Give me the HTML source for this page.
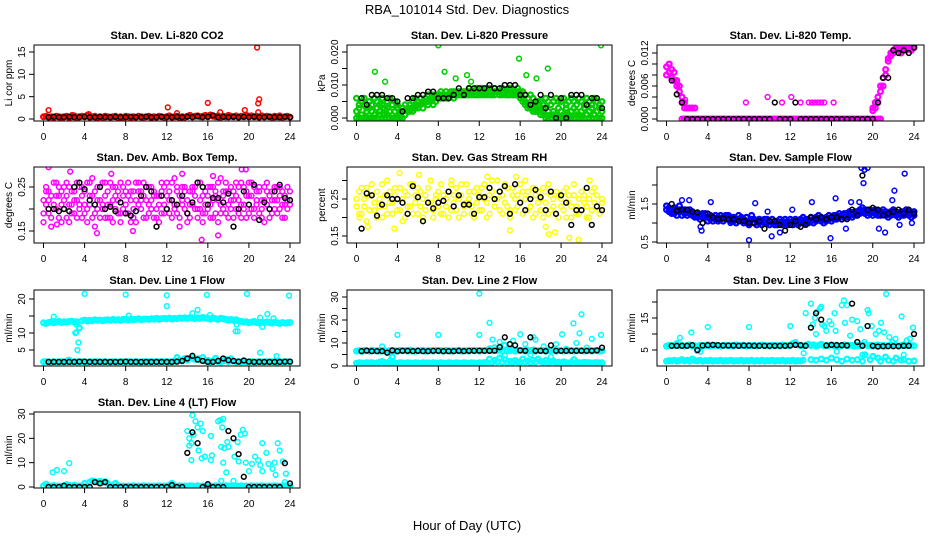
<!DOCTYPE html>
<html><head><meta charset="utf-8"><title>RBA_101014 Std. Dev. Diagnostics</title>
<style>
html,body{margin:0;padding:0;background:#fff;}
svg{display:block;font-family:"Liberation Sans",sans-serif;}
</style></head>
<body>
<svg id="chart" width="936" height="540" viewBox="0 0 936 540" xmlns="http://www.w3.org/2000/svg">
<rect x="0" y="0" width="936" height="540" fill="#fff"/>
<text x="467" y="14" font-size="13" text-anchor="middle">RBA_101014  Std. Dev. Diagnostics</text>
<text x="467" y="530" font-size="13" text-anchor="middle">Hour of Day (UTC)</text>
</svg>
<script>
const xTicks = [0,4,8,12,16,20,24];
const gridStep = 0.25;
const blackStep = 0.5;

const p1Main = [0.5,0.6,0.4,0.5,0.3,0.6,0.5,0.4, 0.5,0.6,0.3,0.5,0.7,0.4,0.5,0.6, 0.5,0.8,0.4,0.5,0.6,0.3,0.5,0.4, 0.6,0.5,0.4,0.5,0.6,0.3,0.5,0.4, 0.6,0.5,0.3,0.5,0.4,0.6,0.5,0.4, 0.5,0.6,0.3,0.5,0.4,0.6,0.5,0.4, 0.5,0.7,0.4,0.5,0.6,0.3,0.5,0.4, 0.6,0.8,0.5,0.6,0.7,0.5,0.6,0.8, 0.5,0.9,0.6,0.5,0.7,0.4,0.6,0.5, 0.8,0.6,0.5,0.7,0.4,0.6,0.5,0.8, 0.6,0.7,0.5,0.6,0.4,0.7,0.5,0.6, 0.5,0.4,0.6,0.5,0.7,0.4,0.5,0.6, 0.4];
const p1OutH = [0.5,2.8,4.4,12.1,13,16,17.2,19.6,20.8,20.9,21,20.9];
const p1OutV = [2,0.9,1.1,2.6,1.3,3.6,1.5,2,16,3.5,4.4,1.5];
const p1Black = [null,0.4,0.5,0.4, 0.4,0.5,0.4,0.4, 0.5,0.4,0.4,0.5, 0.4,0.4,0.5,0.4, 0.4,0.5,0.4,0.4, 0.5,0.4,0.4,0.5, 0.4,0.4,0.5,0.4, 0.5,0.4,0.6,0.4, 0.5,0.8,0.4,0.5, 0.4,0.5,0.4,0.5, 0.4,0.5,0.4,0.4, 0.5,0.4,0.4,0.5, 0.4];

const p2Main = [0.006,0.004,0.005,0.006,0.003,0.005,0.004,0.006, 0.005,0.004,0.006,0.003,0.005,0.006,0.004,0.005, 0.004,0.002,0.003,0.004,0.003,0.004,0.005,0.006, 0.005,0.006,0.005,0.006,0.007,0.006,0.007,0.007, 0.007,0.008,0.007,0.008,0.007,0.008,0.008,0.007, 0.008,0.007,0.008,0.008,0.009,0.008,0.008,0.009, 0.008,0.009,0.008,0.009,0.009,0.008,0.009,0.008, 0.008,0.009,0.008,0.008,0.009,0.008,0.008,0.009, 0.007,0.008,0.007,0.006,0.007,0.006,0.004,0.005, 0.005,0.004,0.006,0.005,0.004,0.005,0.006,0.005, 0.005,0.006,0.004,0.005,0.006,0.005,0.004,0.006, 0.005,0.004,0.006,0.005,0.004,0.006,0.005,0.004, 0.005];
const p2Low = [0,0,0,0,0,0,0,0, 0,0.001,0,0,0.001,0,0,0, 0,0,0,0.001,0.002,0.002,0.003,0.003, 0.004,0.004,0.005,0.005,0.005,0.006,0.006,0.006, 0.006,0.007,0.006,0.007,0.007,0.007,0.007,0.007, 0.007,0.007,0.007,0.007,0.007,0.008,0.007,0.007, 0.007,0.007,0.008,0.007,0.007,0.007,0.007,0.008, 0.007,0.007,0.007,0.007,0.007,0.007,0.007,0.007, 0.006,0.005,0.004,0.004,0.003,0.002,0.002,0.002, 0.001,0.001,0,0,0,0.001,0,0, 0,0,0.001,0,0,0,0.001,0, 0,0,0.001,0,0,0.001,0,0, 0];
const p2Mid = [0.002,0.003,0.001,0.004,0.002,0.003,0.002,0.001, 0.003,0.002,0.004,0.001,0.003,0.002,0.004,0.002, 0.003,0.001,0.002,0.001,0.002,0.003,0.002,0.004, 0.003,0.004,0.003,0.005,0.004,0.005,0.004,0.005, 0.006,0.006,0.007,0.006,0.006,0.007,0.006,0.007, 0.007,0.008,0.007,0.007,0.008,0.007,0.008,0.007, 0.008,0.008,0.007,0.008,0.008,0.007,0.008,0.008, 0.007,0.008,0.008,0.007,0.008,0.007,0.007,0.008, 0.008,0.006,0.005,0.003,0.004,0.003,0.002,0.004, 0.002,0.003,0.001,0.002,0.001,0.002,0.001,0.003, 0.002,0.001,0.003,0.001,0.002,0.003,0.002,0.001, 0.002,0.003,0.001,0.002,0.003,0.001,0.002,0.003, 0.002];
const p2OutH = [1.8,2.8,8,8.6,9.7,10.8,15.9,16.6,17.6,18.7,23.9,11.2];
const p2OutV = [0.014,0.011,0.022,0.014,0.012,0.013,0.018,0.013,0.012,0.015,0.022,0.011];
const p2Black = [null,0.006,0.004,0.007, 0.007,0.007,0.006,0.006, 0.005,0.002,0.006,0.006, 0.007,0.007,0.008,0.008, 0.006,0.006,0.006,0.007, 0.009,0.007,0.009,0.009, 0.009,0.009,0.010,0.009, 0.009,0.010,0.010,0.010, 0.007,0.007,0.004,0.005, 0.007,0.003,0.007,0.000, 0.006,0.000,0.007,0.007, 0.007,0.004,0.006,0.006, 0.003];

const p3Zero = [null,null,null,null,null,null,0,0, 0,0,0,0,0,0,0,0, 0,0,0,0,0,0,0,0, 0,0,0,0,0,0,0,0, 0,0,0,0,0,0,0,0, 0,0,0,0,0,0,0,0, 0,0,0,0,0,0,0,0, 0,0,0,0,0,0,0,0, 0,0,0,0,0,0,0,0, 0,0,0,0,0,0,0,0, 0,0,0,0,null,null,null,null, null,null,null,null,null,null,null,null, null];
const p3Curve = [0.0095,0.010,0.009,0.0085,0.007,0.006,0.004,0.003, 0.002,0.002,0.002,0.002,null,null,null,null, null,null,null,null,null,null,null,null, null,null,null,null,null,null,null,null, null,null,null,null,null,null,null,null, null,null,null,null,null,null,null,null, null,null,null,null,null,null,null,null, null,null,null,null,null,null,null,null, null,null,null,null,null,null,null,null, null,null,null,null,null,null,null,null, 0.002,0.003,0.004,0.006,0.0075,0.009,0.0105,0.012, 0.0125,0.013,0.0125,0.013,0.013,0.0125,0.013,0.013, 0.013];
const p3Spread = [0.008,0.0085,0.0075,0.007,0.006,0.005,0.003,0.002, null,null,null,null,null,null,null,null, null,null,null,null,null,null,null,null, null,null,null,null,null,null,null,null, null,null,null,null,null,null,null,null, null,null,null,null,null,null,null,null, null,null,null,null,null,null,null,null, null,null,null,null,null,null,null,null, null,null,null,null,null,null,null,null, null,null,null,null,null,null,null,null, 0.0015,0.002,0.003,0.005,0.006,0.008,0.011,0.0115, 0.012,0.0125,0.013,0.012,0.0125,0.013,0.013,0.0125, 0.013];
const p3OutH = [7.7,9.8,11.2,12.1,13.8,14.1,14.4,14.7,15.0,15.3,16.2,13.0,1.8,1.0,0.3];
const p3OutV = [0.003,0.004,0.003,0.004,0.003,0.003,0.003,0.003,0.003,0.003,0.003,0.003,0.0035,0.0045,0.010];
const p3Black = [null,0.007,0.0045,0.003, 0,0,0,0, 0,0,0,0, 0,0,0,0, 0,0,0,0, 0,0.003,0,0, 0,0.003,0,0, 0,0,0,0, 0,0,0,0, 0,0,0,0, 0,0.003,0.0075,0.0075, 0.0125,0.012,0.0125,0.012, 0.013];

const p4A = [0.22,0.25,0.19,0.23,0.21,0.26,0.18,0.24, 0.20,0.23,0.25,0.19,0.22,0.26,0.21,0.18, 0.24,0.20,0.23,0.27,0.19,0.22,0.25,0.21, 0.23,0.18,0.26,0.22,0.20,0.24,0.19,0.25, 0.21,0.23,0.17,0.24,0.22,0.26,0.20,0.23, 0.25,0.19,0.22,0.24,0.18,0.23,0.26,0.21, 0.20,0.24,0.22,0.27,0.19,0.23,0.21,0.25, 0.22,0.18,0.24,0.20,0.26,0.22,0.19,0.24, 0.23,0.21,0.25,0.19,0.22,0.27,0.20,0.24, 0.21,0.25,0.18,0.23,0.22,0.26,0.20,0.24, 0.19,0.23,0.25,0.21,0.24,0.18,0.22,0.26, 0.20,0.24,0.22,0.19,0.25,0.21,0.23,0.20, 0.24];
const p4B = [0.19,0.21,0.24,0.18,0.26,0.20,0.23,0.21, 0.25,0.18,0.21,0.24,0.19,0.22,0.25,0.23, 0.19,0.26,0.21,0.18,0.24,0.20,0.22,0.26, 0.18,0.24,0.21,0.25,0.23,0.19,0.26,0.20, 0.24,0.19,0.22,0.20,0.26,0.21,0.24,0.18, 0.22,0.25,0.20,0.18,0.23,0.21,0.19,0.25, 0.23,0.19,0.26,0.21,0.24,0.18,0.25,0.20, 0.19,0.24,0.21,0.25,0.18,0.20,0.23,0.21, 0.20,0.25,0.18,0.23,0.26,0.21,0.24,0.19, 0.24,0.20,0.22,0.26,0.19,0.21,0.25,0.18, 0.23,0.26,0.20,0.24,0.19,0.22,0.25,0.21, 0.23,0.19,0.25,0.22,0.20,0.24,0.18,0.22, 0.21];
const p4C = [0.17,0.24,0.22,0.16,0.20,0.23,0.25,0.17, 0.22,0.26,0.17,0.21,0.24,0.18,0.20,0.25, 0.21,0.17,0.26,0.23,0.16,0.25,0.18,0.20, 0.26,0.21,0.18,0.17,0.25,0.22,0.17,0.23, 0.19,0.26,0.24,0.18,0.17,0.24,0.22,0.26, 0.18,0.21,0.25,0.23,0.20,0.17,0.24,0.19, 0.26,0.22,0.18,0.20,0.25,0.16,0.22,0.24, 0.17,0.21,0.25,0.23,0.20,0.26,0.17,0.19, 0.25,0.18,0.22,0.24,0.17,0.19,0.23,0.26, 0.18,0.22,0.24,0.20,0.25,0.18,0.21,0.23, 0.26,0.20,0.18,0.22,0.25,0.20,0.17,0.24, 0.18,0.22,0.20,0.25,0.23,0.18,0.21,0.25, 0.22];
const p4OutH = [0.5,2.6,5.2,8.7,15.4,17,19.3,19.7,6.6,13.5,1.3,16.5];
const p4OutV = [0.295,0.285,0.145,0.15,0.13,0.14,0.29,0.29,0.28,0.28,0.165,0.275];
const p4Black = [null,0.20,0.20,0.195, 0.20,0.195,0.25,0.26, 0.245,0.22,0.21,0.25, 0.20,0.205,0.195,0.215, 0.19,0.185,0.195,0.23, 0.25,0.24,0.16,0.23, 0.20,0.22,0.21,0.23, 0.19,0.215,0.26,0.25, 0.21,0.225,0.225,0.215, 0.235,0.16,0.20,0.24, 0.21,0.255,0.175,0.215, 0.20,0.24,0.255,0.225, 0.22];

const p5A = [0.23,0.27,0.21,0.25,0.28,0.22,0.26,0.24, 0.20,0.25,0.29,0.23,0.21,0.27,0.24,0.26, 0.22,0.28,0.25,0.20,0.26,0.23,0.29,0.24, 0.21,0.27,0.25,0.22,0.28,0.24,0.20,0.26, 0.23,0.29,0.21,0.25,0.27,0.22,0.24,0.28, 0.20,0.26,0.23,0.29,0.25,0.21,0.27,0.24, 0.22,0.28,0.25,0.20,0.26,0.30,0.23,0.25, 0.27,0.21,0.24,0.28,0.22,0.26,0.25,0.23, 0.29,0.21,0.25,0.27,0.23,0.20,0.26,0.24, 0.22,0.28,0.24,0.21,0.26,0.23,0.27,0.20, 0.25,0.22,0.28,0.24,0.20,0.26,0.23,0.21, 0.27,0.24,0.20,0.25,0.22,0.28,0.23,0.21, 0.24];
const p5B = [0.25,0.21,0.28,0.23,0.19,0.26,0.29,0.22, 0.27,0.23,0.20,0.26,0.30,0.24,0.21,0.28, 0.25,0.22,0.19,0.27,0.23,0.29,0.21,0.26, 0.28,0.23,0.20,0.26,0.24,0.30,0.22,0.25, 0.27,0.21,0.26,0.23,0.20,0.29,0.26,0.22, 0.25,0.29,0.21,0.24,0.27,0.23,0.20,0.28, 0.26,0.22,0.29,0.24,0.21,0.27,0.25,0.30, 0.22,0.26,0.29,0.23,0.20,0.28,0.22,0.26, 0.24,0.27,0.30,0.22,0.25,0.28,0.21,0.27, 0.25,0.20,0.27,0.29,0.22,0.25,0.21,0.26, 0.23,0.27,0.20,0.26,0.23,0.29,0.21,0.25, 0.22,0.26,0.23,0.20,0.27,0.24,0.26,0.22, 0.25];
const p5OutH = [1.1,3.7,4.2,6.1,12.8,15,15.6,18.5,18.8,19.4,20.8,21.7,22.8,0.3,9.3];
const p5OutV = [0.175,0.17,0.32,0.315,0.31,0.165,0.31,0.175,0.155,0.16,0.145,0.14,0.30,0.20,0.30];
const p5Black = [null,0.17,0.265,0.26, 0.205,0.235,0.26,0.25, 0.25,0.24,0.21,0.285, 0.255,0.19,0.24,0.225, 0.24,0.245,0.27,0.23, 0.26,0.235,0.235,0.21, 0.255,0.255,0.28,0.25, 0.27,0.285,0.21,0.29, 0.24,0.22,0.25,0.275, 0.255,0.22,0.27,0.21, 0.26,0.24,0.18,0.22, 0.22,0.28,0.18,0.23, 0.22];

const p6A = [1.35,1.30,1.35,1.25,1.30,1.35,1.30,1.25, 1.30,1.25,1.20,1.25,1.15,1.20,1.25,1.15, 1.15,1.10,1.15,1.10,1.15,1.10,1.15,1.10, 1.10,1.15,1.05,1.10,1.10,1.05,1.10,1.05, 1.05,1.10,1.00,1.05,1.00,1.05,1.10,1.00, 1.05,1.00,1.05,0.95,1.00,1.05,1.00,0.95, 1.00,1.05,1.00,1.05,1.10,1.05,1.00,1.10, 1.05,1.10,1.15,1.10,1.05,1.10,1.15,1.10, 1.15,1.10,1.20,1.15,1.20,1.15,1.25,1.20, 1.25,1.20,1.30,1.25,1.30,1.35,1.30,1.25, 1.30,1.25,1.30,1.20,1.25,1.30,1.25,1.20, 1.25,1.30,1.25,1.20,1.30,1.25,1.20,1.25, 1.20];
const p6B = [1.45,1.40,1.25,1.40,1.20,1.45,1.20,1.35, 1.20,1.35,1.30,1.15,1.25,1.10,1.15,1.25, 1.05,1.20,1.05,1.20,1.05,1.20,1.05,1.20, 1.20,1.05,1.15,1.00,1.20,1.15,1.00,1.15, 0.95,1.20,1.10,0.95,1.10,0.95,1.00,1.10, 0.95,1.10,0.95,1.05,1.10,0.95,1.10,1.05, 1.10,0.95,1.10,0.95,1.00,1.15,1.10,1.00, 1.15,1.00,1.05,1.20,1.15,1.00,1.05,1.20, 1.05,1.20,1.10,1.25,1.10,1.25,1.15,1.30, 1.15,1.30,1.20,1.35,1.40,1.25,1.20,1.35, 1.20,1.35,1.20,1.30,1.35,1.20,1.15,1.30, 1.35,1.20,1.15,1.30,1.20,1.35,1.30,1.15, 1.30];
const p6OutH = [0.8,1.5,2.2,3.4,3.3,4.3,6.2,8,8.6,9.8,10.2,11,12.2,14.1,15.9,16.4,17.4,17.9,18.7,18.9,19.1,19.5,19.2,20.6,21.2,21.9,22.1,23.1,23.8,22.6];
const p6OutV = [1.35,1.6,1.6,0.8,0.9,1.55,1.0,0.55,1.52,1.3,0.65,0.75,1.35,1.55,0.6,1.65,0.85,1.55,1.55,2.45,2.05,2.45,2.4,0.85,0.75,1.6,1.85,2.3,1.0,0.95];
const p6Black = [null,1.50,1.32,1.35, 1.35,1.30,1.28,1.00, 1.25,1.15,1.10,1.12, 1.10,1.10,1.05,1.05, 1.00,1.00,1.05,0.85, 1.05,1.05,0.95,0.80, 0.95,1.05,0.90,0.95, 1.15,1.10,1.15,1.10, 1.15,1.15,1.10,1.10, 1.35,1.20,2.25,1.35, 1.40,1.35,1.20,1.25, 1.30,1.35,1.25,1.35, 1.25];

const p7High = [13.0,12.8,13.1,13.3,13.0,13.2,13.4,13.1, 13.3,13.2,13.4,13.5,13.2,13.3,11.5,13.6, 13.8,13.5,13.7,13.6,13.9,13.7,13.8,13.6, 13.8,13.9,13.7,14.0,13.8,13.9,13.7,14.0, 14.0,13.8,14.1,13.9,14.0,14.2,13.9,14.1, 14.1,14.0,14.2,14.1,14.3,14.0,14.2,14.3, 14.2,14.4,14.1,14.3,14.2,14.4,14.3,14.5, 14.3,14.5,14.4,14.2,14.5,14.3,14.6,14.4, 14.3,14.1,14.4,14.2,14.0,14.3,14.2,14.0, 13.8,14.0,13.7,13.9,13.5,13.4,13.2,13.3, 13.0,13.2,13.4,13.1,12.9,13.2,13.0,13.3, 13.1,12.9,13.2,13.0,12.8,13.1,12.9,13.0, 13.1];
const p7Low = [1.5,1.6,1.5,1.4,1.6,1.5,1.5,1.6, 1.5,1.6,2.0,1.5,1.6,1.5,1.5,1.6, 1.5,1.4,1.6,1.5,1.5,1.6,1.5,1.5, 1.6,1.5,1.4,1.6,1.5,1.5,1.6,1.5, 1.5,1.6,1.5,1.5,1.6,1.5,1.4,1.6, 1.5,1.6,1.5,1.5,1.6,1.5,1.6,1.5, 1.6,1.5,1.5,1.7,2.8,2.0,1.8,2.5, 2.0,2.6,3.0,2.2,2.4,2.0,2.8,1.8, 2.0,1.5,1.8,2.6,1.6,1.5,1.8,2.2, 1.6,2.4,1.7,1.5,1.6,1.5,1.6,1.5, 1.5,1.6,1.4,1.5,1.6,1.5,1.5,1.6, 1.5,1.6,1.5,1.4,1.6,1.5,1.5,1.6, 1.5];
const p7OutH = [1,3.2,3.1,3.2,3.4,3.3,4,8,8.3,12,12,14.5,15,15.9,16.2,18.7,18.9,18.8,19.8,21.1,21.3,21.1,21.8,22.4,22.7,23.9,2.4];
const p7OutV = [14.8,12.5,10,10.2,7.2,5,21.5,21.3,15.1,21.1,17.9,15.8,16.8,21.2,15.3,10.5,10.5,12.5,21.5,14.5,11.8,4.2,15.6,14.3,3.2,21,2.1];
const p7Black = [null,1.5,1.5,1.5, 1.5,1.5,1.5,1.6, 1.6,1.5,1.5,1.5, 1.5,1.5,1.5,1.5, 1.6,1.5,1.5,1.5, 1.5,1.5,1.5,1.5, 1.5,1.5,1.6,1.8, 2.5,3.3,2.2,1.8, 1.5,1.5,1.8,2.5, 2.0,1.8,1.6,1.9, 1.6,1.5,1.5,1.5, 1.5,1.5,1.5,1.6, 1.6];

const p8High = [6.5,6.7,6.4,6.8,6.6,6.5,6.9,6.6, 6.7,6.5,6.8,6.6,6.4,6.7,4.0,6.6, 6.5,6.8,6.6,6.7,6.5,6.9,6.6,6.5, 6.7,6.6,6.8,6.5,6.7,6.6,6.5,6.8, 6.6,6.7,6.5,6.8,6.6,6.5,6.7,6.6, 6.8,6.5,6.7,6.6,6.5,6.8,6.6,6.7, 6.5,6.7,6.6,6.8,7.5,6.6,8.0,6.7, 7.0,6.5,9.0,6.8,6.6,7.2,6.5,6.8, 6.6,6.7,6.5,6.8,6.6,7.0,6.5,6.7, 6.6,6.8,6.5,6.7,6.6,6.9,6.5,6.7, 6.6,6.5,6.8,6.6,6.7,6.5,6.8,6.6, 6.7,6.5,6.6,6.8,6.5,6.7,6.6,6.5, 6.6];
const p8Low = [1.2,1.4,1.3,1.2,1.5,1.3,1.4,1.2, 1.3,1.6,2.0,1.4,1.3,1.2,1.4,1.3, 1.2,1.4,1.3,1.2,1.4,1.3,1.2,1.4, 1.3,1.2,1.4,1.3,1.3,1.2,1.4,1.3, 1.2,1.4,1.3,1.2,1.4,1.3,1.2,1.4, 1.3,1.2,1.4,1.3,1.2,1.4,1.3,1.2, 1.4,1.3,1.5,1.4,3.0,1.6,2.5,1.8, 3.5,1.7,2.8,1.5,2.0,1.6,2.4,1.8, 1.6,3.0,1.8,2.2,1.5,2.5,1.7,3.0, 2.0,1.6,2.5,1.5,1.8,2.2,1.5,1.6, 1.4,1.8,1.5,1.3,1.6,2.8,1.4,1.5, 1.3,1.6,1.4,1.5,1.3,1.4,1.5,1.3, 1.4];
const p8OutH = [2.5,3.3,4,8,12,12,13,13.3,14,15.3,16,16.5,17.3,17.5,18.3,19.5,20.1,20.5,21.2,21.5,21.8,22,22.5,23,23.9,14.5,17,19];
const p8OutV = [8.5,2.5,13.5,13.5,31.5,13.5,18.8,11.5,10.5,11,13.8,9.5,12.5,11.5,8.5,9.5,13.8,7.5,18.5,10,14.2,22.5,8,11.8,13.5,4.5,5,4];
const p8Black = [null,6.5,6.7,6.5, 6.5,6.5,5.8,6.8, 6.5,6.6,6.6,6.5, 6.6,6.5,6.5,6.6, 6.6,6.5,6.5,6.5, 6.6,6.5,6.6,6.6, 6.7,6.6,6.6,6.7, 8.2,12.5,9.5,9.0, 6.8,6.6,12.5,6.6, 6.6,6.5,9.0,6.6, 6.6,6.6,6.6,6.6, 6.6,6.6,6.6,6.8, 8.0];

const p9High = [6.2,6.5,6.3,6.4,7.0,6.3,6.5,6.2, 6.4,6.6,6.2,6.3,4.8,6.5,6.3,6.4, 6.6,6.2,6.4,6.5,6.3,6.2,6.4,6.5, 6.3,6.4,6.2,6.6,6.3,6.4,6.5,6.2, 6.4,6.3,6.5,6.2,6.4,6.6,6.3,6.4, 6.2,6.5,6.3,6.4,6.2,6.6,6.3,6.4, 6.5,7.0,6.8,6.6,6.4,6.3,6.5,6.8, 6.4,6.6,6.2,6.5,6.8,6.3,6.5,6.4, 6.6,6.3,6.5,6.2,6.4,6.6,6.3,6.5, 6.4,6.2,6.5,6.3,6.4,6.6,6.3,6.5, 6.2,6.4,6.6,6.3,6.5,6.2,6.4,6.6, 6.3,6.5,6.2,6.4,6.6,6.3,6.5,6.4, 6.3];
const p9Low = [1.5,1.7,1.6,1.8,1.5,1.7,2.0,1.6, 1.8,1.5,2.2,1.7,1.6,1.8,1.5,1.7, 1.6,1.8,1.5,1.7,1.6,1.8,1.5,1.7, 1.6,1.8,1.5,1.7,1.6,1.8,1.5,1.7, 1.6,1.8,1.5,1.7,1.6,1.8,1.5,1.7, 1.6,1.8,1.5,1.7,1.6,1.8,1.5,1.7, 1.6,1.8,1.5,1.7,1.6,1.8,null,null, 2.0,null,1.8,null,2.2,null,1.8,null, 2.5,null,2.0,null,1.5,null,2.2,null, 1.8,null,2.0,null,1.5,3.5,null,2.0, 3.0,null,2.5,1.5,null,2.8,1.8,null, 1.5,2.5,null,1.8,2.0,null,1.5,null, 1.6];
const p9OutH = [1.3,2.4,3.3,4,8,12,12.5,13.3,13.5,14,14.2,14.4,14.5,14.6,14.9,15.1,15.3,15.5,15,15.8,16,16.3,16.4,16.5,17,17.2,17.3,17.5,17.8,18,18.5,18.8,19,19.2,19.5,19.6,19.9,20.3,20.6,20.8,21.1,21.3,21.6,21.9,22.2,22.8,23,23.3,23.6,23.9];
const p9OutV = [8.8,10.5,4.5,12.2,12.2,12.5,7.5,4,16.5,19.5,13,15,10,17,18,13,12.5,11,18.5,14,13,16.5,11,4.5,19,20.5,13.5,19,9.5,14.5,14,11.5,3.5,7.5,17.5,16.5,12.5,10,11,13.5,10.5,22.5,9,7.5,8.5,15.5,3.5,8,8.5,12];
const p9Black = [null,6.3,6.3,6.3, 6.3,6.5,5.0,6.4, 6.5,6.6,6.5,6.4, 6.4,6.4,6.3,6.4, 6.4,6.3,6.3,6.3, 6.3,6.3,6.3,6.3, 6.4,6.6,6.5,6.3, 12.0,16.5,14.5,6.4, 6.6,6.5,6.5,6.4, 19.5,7.5,6.3,12.5, 6.3,6.1,6.2,6.2, 6.2,6.2,6.3,6.3, 10.0];

const p10Base = [0.5,1.2,0.4,0.3,0.6,0.3,0.4,0.3, 0.5,1.0,0.6,0.4,0.8,0.3,0.4,0.5, 1.5,0.4,2.0,2.5,2.2,2.0,2.4,1.8, 2.2,1.5,0.4,0.3,1.5,0.6,0.3,0.4, 0.3,0.4,0.3,0.5,0.3,0.4,0.3,0.5, 0.3,0.4,0.3,0.4,0.3,0.5,0.3,0.4, 0.3,0.8,1.5,0.4,0.3,0.5,0.3,0.4, 0.3,0.5,0.4,0.3,0.5,0.3,0.4,0.3, 0.5,0.4,0.3,0.5,0.3,0.4,0.3,0.5, 0.4,0.3,0.5,0.4,0.3,0.5,0.3,0.4, 0.3,0.5,0.3,0.4,0.3,0.5,0.4,0.3, 0.4,0.3,0.5,0.4,0.3,0.4,0.5,0.3, 0.4];
const p10OutH = [0.9,1.3,2,2.5,14,14.2,14.4,14.5,14.6,14.8,15,15.3,15.5,15.4,14.4,15.7,16.3,16.4,16.3,17,17.2,17.4,17.5,17.3,17.6,17.9,18,17.8,17.5,18.6,18.9,19,19.2,19.4,19.6,19.7,20,20.3,20.6,20.9,21.1,21.3,21.7,21.9,22.3,22.6,22.8,23,23.3,23.6,22.5,21.3,14.2,15.1,23.5,17.3,18.5];
const p10OutV = [6,7,6.5,9.8,23,20,18,29.5,21.5,27,24.5,26,23,11.8,11,12.5,21,13,11,27,27.5,24.5,28,16.5,16,18.5,16.5,6,10,12.5,18.5,10.5,21.5,23.5,22,10,6.5,9.5,12.5,11,9,18,14,9.5,7.5,5,18,15,10.5,5.5,10,6.5,17,15,2,2.5,2.5];
const p10Black = [null,0,0,0, 0.5,0,0,0, 0,0,2,1.5, 2.0,0,0,0, 0,0,0,0, 0,0,0,0, 0,0.8,0,0, 14,22.5,18,0, 1.2,0,0,0, 23,20,13.5,4.2, 0,0,0,0, 0,0,0,9.8, 1.5];

const cols = [{l:34,r:300,x0:43.5,x24:290},{l:347,r:612,x0:356.5,x24:602},{l:657,r:924,x0:666.5,x24:914}];
const rows = [45,167,290,412];
const RED="#ff0000",GRN="#00cd00",MAG="#ff00ff",YEL="#ffff00",BLU="#0000ff",CYA="#00ffff";
const panels = [
 {name:'co2',title:'Stan. Dev. Li-820 CO2',ylab:'Li cor ppm',c:0,r:0,a:[0,119,15,52],ticks:[0,5,10,15],labs:['0','5','10','15'],color:RED,series:[p1Main],big:true,oh:p1OutH,ov:p1OutV,black:p1Black},
 {name:'pressure',title:'Stan. Dev. Li-820 Pressure',ylab:'kPa',c:1,r:0,a:[0,118,0.02,52],ticks:[0,0.005,0.01,0.015,0.02],labs:['0.000','','0.010','','0.020'],color:GRN,series:[p2Main,p2Low,p2Mid],big:true,oh:p2OutH,ov:p2OutV,black:p2Black},
 {name:'temp',title:'Stan. Dev. Li-820 Temp.',ylab:'degrees C',c:2,r:0,a:[0,119,0.012,53],ticks:[0,0.002,0.004,0.006,0.008,0.01,0.012],labs:['0.000','','','0.006','','','0.012'],color:MAG,series:[p3Zero,p3Curve,p3Spread],big:true,oh:p3OutH,ov:p3OutV,black:p3Black},
 {name:'amb-box-temp',title:'Stan. Dev. Amb. Box Temp.',ylab:'degrees C',c:0,r:1,a:[0.15,231,0.25,187],ticks:[0.15,0.2,0.25],labs:['0.15','','0.25'],color:MAG,series:[p4A,p4B,p4C],big:false,oh:p4OutH,ov:p4OutV,black:p4Black},
 {name:'gas-rh',title:'Stan. Dev. Gas Stream RH',ylab:'percent',c:1,r:1,a:[0.15,236,0.25,199],ticks:[0.15,0.2,0.25,0.3],labs:['0.15','','0.25',''],color:YEL,series:[p5A,p5B],big:false,oh:p5OutH,ov:p5OutV,black:p5Black},
 {name:'sample-flow',title:'Stan. Dev. Sample Flow',ylab:'ml/min',c:2,r:1,a:[0.5,242,1.5,204],ticks:[0.5,1,1.5,2],labs:['0.5','','1.5',''],color:BLU,series:[p6A,p6B],big:true,oh:p6OutH,ov:p6OutV,black:p6Black},
 {name:'line1-flow',title:'Stan. Dev. Line 1 Flow',ylab:'ml/min',c:0,r:2,a:[5,350,20,299],ticks:[5,10,15,20],labs:['5','10','','20'],color:CYA,series:[p7High,p7Low],big:true,oh:p7OutH,ov:p7OutV,black:p7Black},
 {name:'line2-flow',title:'Stan. Dev. Line 2 Flow',ylab:'ml/min',c:1,r:2,a:[0,366,30,297],ticks:[0,5,10,15,20,25,30],labs:['0','','10','','20','','30'],color:CYA,series:[p8High,p8Low],big:true,oh:p8OutH,ov:p8OutV,black:p8Black},
 {name:'line3-flow',title:'Stan. Dev. Line 3 Flow',ylab:'ml/min',c:2,r:2,a:[5,350,15,318],ticks:[5,10,15,20],labs:['5','','15',''],color:CYA,series:[p9High,p9Low],big:true,oh:p9OutH,ov:p9OutV,black:p9Black},
 {name:'line4-flow',title:'Stan. Dev. Line 4 (LT) Flow',ylab:'ml/min',c:0,r:3,a:[0,487,30,414],ticks:[0,10,20,30],labs:['0','10','20','30'],color:CYA,series:[p10Base],big:true,oh:p10OutH,ov:p10OutV,black:p10Black}
];
const NS="http://www.w3.org/2000/svg";
const svg=document.getElementById('chart');
function mk(tag,attrs,parent){const e=document.createElementNS(NS,tag);for(const k in attrs)e.setAttribute(k,attrs[k]);parent.appendChild(e);return e;}
panels.forEach(p=>{
  const col=cols[p.c], T=rows[p.r], B=T+76;
  const xs=h=>col.x0+(h/24)*(col.x24-col.x0);
  const ys=v=>p.a[1]+(v-p.a[0])*(p.a[3]-p.a[1])/(p.a[2]-p.a[0]);
  const g=mk('g',{},svg);
  
  
  const t=mk('text',{x:(col.l+col.r)/2,y:T-6,'font-size':11,'font-weight':'bold','text-anchor':'middle'},g);
  t.textContent=p.title;
  
  
  const yl=mk('text',{x:col.l-22,y:(T+B)/2,'font-size':10,'text-anchor':'middle',transform:`rotate(-90 ${col.l-22} ${(T+B)/2})`},g);
  yl.textContent=p.ylab;
  
  
  const clip=mk('clipPath',{id:'clip-'+p.name},g);
  mk('rect',{x:col.l,y:T,width:col.r-col.l,height:B-T},clip);
  const pts=mk('g',{'clip-path':`url(#clip-${p.name})`,fill:'none'},g);
  
  
  const rad=2.4, sw=1.5;
  const dot=(h,v,color,w)=>{if(v===null||v===undefined||h>24.2)return;const c=mk('circle',{cx:xs(h).toFixed(1),cy:ys(v).toFixed(1),r:rad,stroke:color,'stroke-width':w},pts);
    
    };
  p.series.forEach(s=>{s.forEach((v,i)=>dot(i*gridStep,v,p.color,p.big?2.2:sw));});
  p.oh.forEach((h,i)=>dot(h,p.ov[i],p.color,sw));
  p.black.forEach((v,i)=>dot(i*blackStep,v,'#000',sw));
  const box=mk('rect',{x:col.l,y:T,width:col.r-col.l,height:B-T,fill:'none',stroke:'#000','stroke-width':1},g);
  
  
  xTicks.forEach(h=>{const x=xs(h);mk('line',{x1:x,y1:B,x2:x,y2:B+5,stroke:'#000'},g);
    const tx=mk('text',{x:x,y:B+19,'font-size':10,'text-anchor':'middle'},g);tx.textContent=String(h);
    
    });
  p.ticks.forEach((v,i)=>{const y=ys(v);mk('line',{x1:col.l-5,y1:y,x2:col.l,y2:y,stroke:'#000'},g);
    if(p.labs[i]){const tx=mk('text',{x:col.l-9,y:y,'font-size':10,'text-anchor':'middle',transform:`rotate(-90 ${col.l-9} ${y})`},g);tx.textContent=p.labs[i];
      
      }});
});
</script>
</body></html>
